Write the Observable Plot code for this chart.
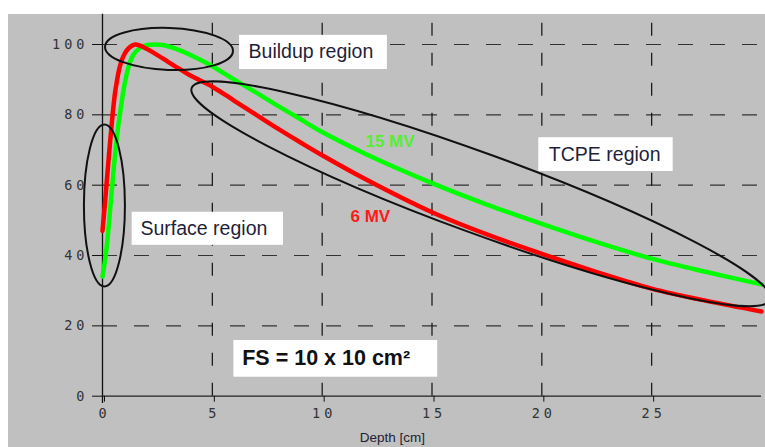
<!DOCTYPE html>
<html><head><meta charset="utf-8">
<script src="https://cdn.jsdelivr.net/npm/d3@7"></script>
<script src="https://cdn.jsdelivr.net/npm/@observablehq/plot@0.6"></script>
<style>
body{margin:0;background:#fff;}
#wrap{position:relative;width:765px;height:447px;overflow:hidden;}
#bg{position:absolute;left:8px;top:14px;width:757px;height:433px;background:#c0c0c0;}
#chart{position:absolute;left:0;top:0;}
#chart svg{background:transparent;overflow:visible;}
#chart g[aria-label="x-axis tick label"],
#chart g[aria-label="y-axis tick label"]{font-size:13.5px !important;font-family:"DejaVu Sans Mono",monospace !important;}
#chart g[aria-label="x-axis tick label"] text,
#chart g[aria-label="y-axis tick label"] text{letter-spacing:4px;fill:#333;}
</style></head><body>
<div id="wrap"><div id="bg"></div><div id="chart"></div></div>
<script>
// 6 MV percentage depth dose (red)
const depth6 = [0, 0.1, 0.2, 0.3, 0.4, 0.5, 0.6, 0.8, 1.0, 1.2, 1.5, 2.0, 2.5, 3.0, 3.6, 4.0, 5, 6, 7, 8, 9, 10, 12, 15, 17.5, 20, 22.5, 25, 27.5, 30];
const dose6  = [47, 54, 61.5, 69, 76, 82.5, 87.5, 94, 97.3, 99, 100, 98.8, 97, 95, 92.7, 91.2, 88, 84, 80, 76, 72.2, 68.5, 61.6, 52.3, 46, 40.5, 35.3, 30.6, 27.1, 24.1];
// 15 MV percentage depth dose (green)
const depth15 = [0, 0.1, 0.2, 0.3, 0.4, 0.5, 0.6, 0.7, 0.8, 1.0, 1.2, 1.4, 1.7, 2.0, 2.4, 2.8, 3.5, 4.5, 5, 6, 7, 8, 9, 10, 12, 15, 17.5, 20, 22.5, 25, 27.5, 30];
const dose15  = [34, 38, 43, 49.5, 57, 64, 70.5, 76, 80.5, 88.5, 94, 97, 99, 99.8, 100, 99.8, 98.4, 95.5, 93.8, 90, 86.3, 82.5, 78.8, 75.1, 68.8, 60.6, 54.5, 49, 43.8, 39.1, 35.3, 31.8];

const xTicks = [0, 5, 10, 15, 20, 25];
const yTicks = [0, 20, 40, 60, 80, 100];
const xGrid = [5, 10, 15, 20, 25];
const yGrid = [20, 40, 60, 80, 100];
const xLabel = "Depth [cm]";

// annotation ellipses: centre in data units, radii in px, rotation in degrees
const ellipseNames = ["Surface", "Buildup", "TCPE"];
const ellipseCx = [0.11, 3.05, 17.25];
const ellipseCy = [54.1, 98.6, 57.4];
const ellipseRx = [20.5, 64, 308];
const ellipseRy = [81, 21, 40];
const ellipseRot = [0, 2, 20.1];

// annotation boxes
const boxText = ["Buildup region", "Surface region", "TCPE region"];
const boxX1 = [6.24, 1.35, 19.86];
const boxX2 = [12.97, 8.24, 25.98];
const boxY1 = [92.9, 42.9, 63.9];
const boxY2 = [102.6, 52.3, 73.5];
const boxTx = [6.65, 1.73, 20.32];
const boxTy = [97.8, 47.6, 68.75];

const fsText = "FS = 10 x 10 cm²";
const fsBox = {x1: 5.98, x2: 15.26, y1: 5.4, y2: 15.84, tx: 6.36, ty: 10.7};

const seriesLabels = ["15 MV", "6 MV"];
const seriesLabelX = [11.97, 11.29];
const seriesLabelY = [72.5, 51.1];
const seriesColors = ["#55ee33", "#ff1a1a"];

const yAxisTop = 108.6, yAxisBottom = -2.1;

const red = depth6.map((d, i) => ({depth: d, dose: dose6[i]}));
const green = depth15.map((d, i) => ({depth: d, dose: dose15[i]}));
const boxes = boxText.map((t, i) => ({t, x1: boxX1[i], x2: boxX2[i], y1: boxY1[i], y2: boxY2[i], tx: boxTx[i], ty: boxTy[i]}));
const ellipses = ellipseNames.map((n, i) => ({n, cx: ellipseCx[i], cy: ellipseCy[i], rx: ellipseRx[i], ry: ellipseRy[i], rot: ellipseRot[i]}));
const labels = seriesLabels.map((t, i) => ({t, x: seriesLabelX[i], y: seriesLabelY[i], c: seriesColors[i]}));

function ellipseMark(index, scales) {
  const g = d3.create("svg:g").attr("fill", "none").attr("stroke", "#111").attr("stroke-width", 2);
  for (const e of ellipses) {
    g.append("ellipse")
      .attr("transform", `translate(${scales.x(e.cx)},${scales.y(e.cy)}) rotate(${e.rot})`)
      .attr("rx", e.rx).attr("ry", e.ry);
  }
  return g.node();
}

const chart = Plot.plot({
  width: 765, height: 447,
  marginLeft: 102, marginRight: 4, marginTop: 44, marginBottom: 51.3,
  x: {domain: [0, 30]},
  y: {domain: [0, 100]},
  style: {background: "transparent"},
  marks: [
    Plot.ruleY(yGrid, {stroke: "#333", strokeWidth: 1.2, strokeDasharray: "15,17"}),
    Plot.ruleX(xGrid, {y1: 0, y2: yAxisTop, stroke: "#111", strokeWidth: 1.2, strokeDasharray: "13,17"}),
    Plot.ruleY([0], {stroke: "#222", strokeWidth: 1.2}),
    Plot.ruleX([0], {y1: yAxisBottom, y2: yAxisTop, stroke: "#111", strokeWidth: 1.3}),
    Plot.axisX(xTicks, {tickSize: 6, tickPadding: 6, dx: 2, stroke: "#111", label: null, tickFormat: d => String(d)}),
    Plot.axisY(yTicks, {tickSize: 10, tickPadding: 4, stroke: "#111", label: null, tickFormat: d => String(d)}),
    Plot.text([xLabel], {x: 13.2, frameAnchor: "bottom", dy: 46, fontSize: 13.5, fontFamily: "Liberation Sans", fill: "#223"}),
    Plot.line(green, {x: "depth", y: "dose", stroke: "#00ff00", strokeWidth: 4.5, curve: "catmull-rom"}),
    Plot.line(red, {x: "depth", y: "dose", stroke: "#ff0000", strokeWidth: 4.5, curve: "catmull-rom"}),
    ellipseMark,
    Plot.rect(boxes, {x1: "x1", x2: "x2", y1: "y1", y2: "y2", fill: "white"}),
    Plot.text(boxes, {x: "tx", y: "ty", text: "t", textAnchor: "start", fontSize: 19.5, fontFamily: "Liberation Sans", fill: "#1f1f3a"}),
    Plot.rect([fsBox], {x1: "x1", x2: "x2", y1: "y1", y2: "y2", fill: "white"}),
    Plot.text([fsBox], {x: "tx", y: "ty", text: () => fsText, textAnchor: "start", fontSize: 21.5, fontWeight: "bold", fontFamily: "Liberation Sans", fill: "#111"}),
    Plot.text(labels, {x: "x", y: "y", text: "t", fill: "c", textAnchor: "start", fontSize: 17, fontWeight: "bold", fontFamily: "Liberation Sans"})
  ]
});
document.getElementById("chart").appendChild(chart);
</script>
</body></html>
